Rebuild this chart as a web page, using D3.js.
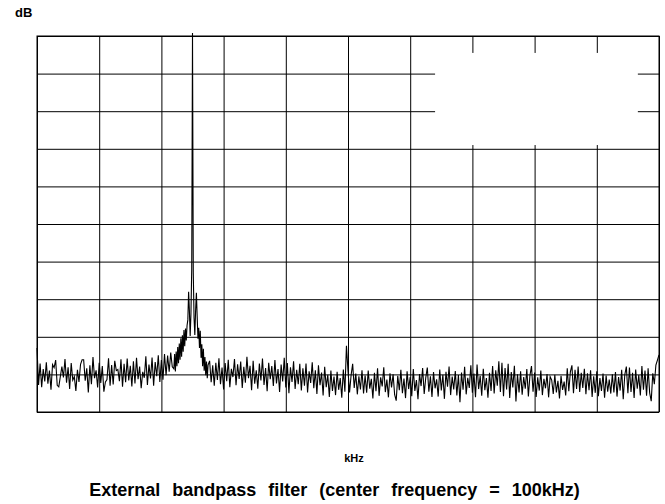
<!DOCTYPE html>
<html>
<head>
<meta charset="utf-8">
<script src="https://cdn.jsdelivr.net/npm/d3@7"></script>
<style>
    body { margin: 0; background: #fff; }
    text { font-family: "Liberation Sans", Arial, sans-serif; font-weight: bold; fill: #000; }
</style>
</head>
<body>
<div class="chart__container"></div>
<script>
/*-------------------------------------INIT-------------------------------------*/

const CHART__WIDTH = 665;
const CHART__HEIGHT = 504;

const MARGIN = {
    top: 36,
    right: 6,
    bottom: 92,
    left: 37
}

const X__TICKS = [0, 40, 80, 120, 160, 200, 240, 280, 320, 360, 400];   // kHz
const Y__TICKS = [-100, -90, -80, -70, -60, -50, -40, -30, -20, -10, 0]; // dB

// spectrum 0..87 kHz, 1 kHz per sample
const traceLow = [
    -83.0, -92.8, -87.1, -93.4, -88.6, -91.9, -86.8, -92.5, -89.0, -94.1, -87.4, -88.2, -86.2, -92.9, -93.3, -90.6, -87.9, -90.8, -85.9, -92.2,
    -88.1, -93.9, -87.0, -91.5, -90.6, -94.4, -88.8, -92.0, -87.3, -86.1, -86.1, -91.7, -88.4, -94.8, -87.6, -92.6, -85.4, -91.0, -88.9, -93.5,
    -86.9, -92.3, -87.8, -94.6, -92.0, -91.4, -85.7, -93.0, -87.5, -92.7, -86.4, -89.0, -88.7, -91.8, -86.0, -93.3, -87.2, -92.1, -85.8, -91.6,
    -87.7, -93.2, -86.5, -92.4, -85.6, -91.3, -87.9, -93.7, -89.3, -90.9, -85.2, -92.8, -87.4, -91.1, -85.5, -93.0, -86.7, -90.5, -84.9, -92.0,
    -86.2, -91.4, -84.6, -90.2, -85.0, -89.3, -84.2, -88.0
];

// the 100 kHz carrier and its skirts, 0.5 kHz per sample
const peakKHz = [
    88.0, 88.5, 89.0, 89.5, 90.0, 90.5, 91.0, 91.5, 92.0, 92.5, 93.0, 93.5, 94.0, 94.5, 95.0, 95.5,
    96.0, 96.5, 97.0, 97.5, 98.0, 98.5, 99.0, 99.5, 100.0, 100.5, 101.0, 101.5, 102.0, 102.5, 103.0,
    103.5, 104.0, 104.5, 105.0, 105.5, 106.0, 106.5, 107.0, 107.5, 108.0, 108.5, 109.0, 109.5, 110.0
];
const peakDb = [
    -88.5, -84.6, -89.2, -83.9, -87.8, -82.7, -87.0, -81.8, -86.1, -80.4, -85.3, -79.6, -84.0, -78.2, -82.5, -77.8,
    -81.0, -77.0, -75.5, -68.0, -73.0, -79.8, -74.0, -62.0, 0.8, -63.0, -75.0, -79.5, -73.0, -68.3, -74.5,
    -80.5, -77.6, -83.0, -78.4, -85.6, -82.0, -87.8, -83.2, -89.0, -85.4, -90.2, -86.6, -91.0, -87.5
];

// spectrum 111..400 kHz, 1 kHz per sample
const traceHigh = [
    -86.4, -92.1, -87.6, -93.0, -86.9, -91.5, -85.7, -92.6, -88.2, -94.0, -87.0, -91.8, -86.1, -93.4, -88.5, -90.7, -85.9, -92.9, -87.3, -91.2,
    -86.6, -93.6, -88.0, -92.2, -85.3, -91.0, -87.7, -94.2, -86.4, -92.5, -88.9, -93.8, -87.1, -91.6, -85.8, -92.8, -88.3, -94.5, -86.9, -91.3,
    -87.8, -93.1, -86.2, -92.4, -88.6, -94.7, -87.4, -91.9, -85.6, -93.5, -87.0, -95.0, -88.1, -92.0, -86.5, -93.9, -88.8, -92.6, -87.2, -94.3,
    -88.4, -93.0, -87.1, -94.8, -89.2, -92.3, -86.8, -93.7, -88.9, -95.2, -87.6, -92.9, -89.5, -95.6, -88.0, -93.4, -90.1, -96.0, -89.0, -94.4,
    -90.6, -95.5, -89.3, -94.1, -91.0, -96.2, -88.7, -94.6, -82.4, -89.1, -94.8, -90.2, -87.2, -93.6, -89.8, -95.3, -90.5, -94.0, -88.9, -95.1,
    -90.3, -94.9, -89.0, -93.8, -91.2, -96.4, -89.6, -94.5, -88.4, -95.7, -90.8, -93.2, -88.1, -94.7, -91.4, -96.1, -89.7, -93.5, -90.0, -95.4,
    -97.0, -90.4, -94.2, -88.8, -95.0, -91.1, -96.3, -89.2, -93.9, -90.7, -95.8, -88.6, -94.4, -91.5, -96.6, -89.9, -93.1, -88.3, -95.2, -90.9,
    -88.2, -94.6, -90.5, -96.0, -89.4, -93.7, -91.3, -95.9, -88.7, -94.3, -90.1, -96.5, -89.3, -93.3, -87.9, -95.5, -90.6, -94.0, -89.1, -95.6,
    -90.2, -97.4, -89.5, -94.1, -88.0, -95.3, -90.9, -93.6, -87.6, -94.9, -89.8, -96.1, -87.4, -93.9, -90.4, -95.7, -88.5, -94.2, -91.0, -96.2,
    -89.6, -94.4, -87.8, -95.1, -88.9, -93.0, -86.5, -94.7, -86.9, -95.8, -88.3, -94.0, -87.2, -96.3, -89.4, -93.5, -87.7, -97.2, -90.0, -94.8,
    -89.2, -95.4, -90.7, -93.8, -88.6, -95.9, -90.3, -87.8, -94.6, -89.5, -96.0, -90.8, -94.3, -89.0, -95.5, -91.2, -93.7, -89.9, -96.1, -90.6,
    -91.5, -95.2, -90.1, -94.8, -91.7, -96.4, -90.4, -94.1, -91.9, -95.6, -88.4, -94.5, -89.3, -87.6, -95.0, -88.8, -93.9, -87.9, -94.7, -89.6,
    -93.6, -88.5, -95.3, -89.7, -94.2, -88.9, -96.0, -90.5, -94.9, -89.2, -95.8, -91.0, -94.4, -89.8, -96.2, -90.3, -94.6, -91.4, -95.1, -90.0,
    -94.8, -89.4, -95.9, -90.7, -94.3, -88.8, -96.6, -90.1, -87.9, -95.0, -88.2, -94.7, -89.6, -96.3, -88.7, -93.8, -90.2, -95.6, -87.8, -94.1,
    -89.0, -95.7, -88.4, -94.9, -97.1, -89.7, -92.6, -87.5, -86.2, -84.8
];

const TRACE = traceLow.map((d, i) => [i, d])
    .concat(peakKHz.map((f, i) => [f, peakDb[i]]))
    .concat(traceHigh.map((d, i) => [111 + i, d]));


/*-------------------------------------Graph-------------------------------------*/

const innerW = CHART__WIDTH - MARGIN.left - MARGIN.right;
const innerH = CHART__HEIGHT - MARGIN.top - MARGIN.bottom;

const SVG = d3.select(".chart__container").append("svg");

SVG.attr("width", CHART__WIDTH).attr("height", CHART__HEIGHT);

const x = d3.scaleLinear().domain([0, 400]).range([0, innerW]);
const y = d3.scaleLinear().domain([-100, 0]).range([innerH, 0]);

const plot = SVG.append("g").attr("transform", `translate(${MARGIN.left},${MARGIN.top})`);

//Grid

const gridX = plot.append("g")
    .attr("transform", `translate(0,${innerH})`)
    .call(d3.axisBottom(x).tickValues(X__TICKS).tickSize(innerH).tickSizeOuter(0).tickFormat(""));

const gridY = plot.append("g")
    .call(d3.axisLeft(y).tickValues(Y__TICKS).tickSize(-innerW).tickSizeOuter(0).tickFormat(""));

// ticks point up from the bottom axis, flip them
gridX.selectAll(".tick line").attr("y2", -innerH);

plot.selectAll(".domain").remove();
plot.selectAll(".tick line").attr("stroke", "#000").attr("stroke-width", 1);

//Empty legend box (hides the grid behind it)

plot.append("rect")
    .attr("x", innerW * 0.64)
    .attr("y", innerH * 0.045)
    .attr("width", innerW * 0.326)
    .attr("height", innerH * 0.245)
    .attr("fill", "#fff");

//Frame

plot.append("rect")
    .attr("width", innerW)
    .attr("height", innerH)
    .attr("fill", "none")
    .attr("stroke", "#000")
    .attr("stroke-width", 1);

//Trace

const line = d3.line().x(d => x(d[0])).y(d => y(d[1]));

plot.append("path")
    .datum(TRACE)
    .attr("d", line)
    .attr("fill", "none")
    .attr("stroke", "#000")
    .attr("stroke-width", 1.1);

//Labels

SVG.append("text")
    .attr("x", 15)
    .attr("y", 17)
    .style("font-size", "13px")
    .text("dB");

SVG.append("text")
    .attr("x", 354)
    .attr("y", 462)
    .attr("text-anchor", "middle")
    .style("font-size", "11px")
    .text("kHz");

//Create title

SVG.append("text")
    .attr("x", 334.5)
    .attr("y", 496)
    .attr("id", "title")
    .attr("text-anchor", "middle")
    .style("font-size", "18px")
    .style("word-spacing", "7px")
    .text("External bandpass filter (center frequency = 100kHz)");
</script>
</body>
</html>
